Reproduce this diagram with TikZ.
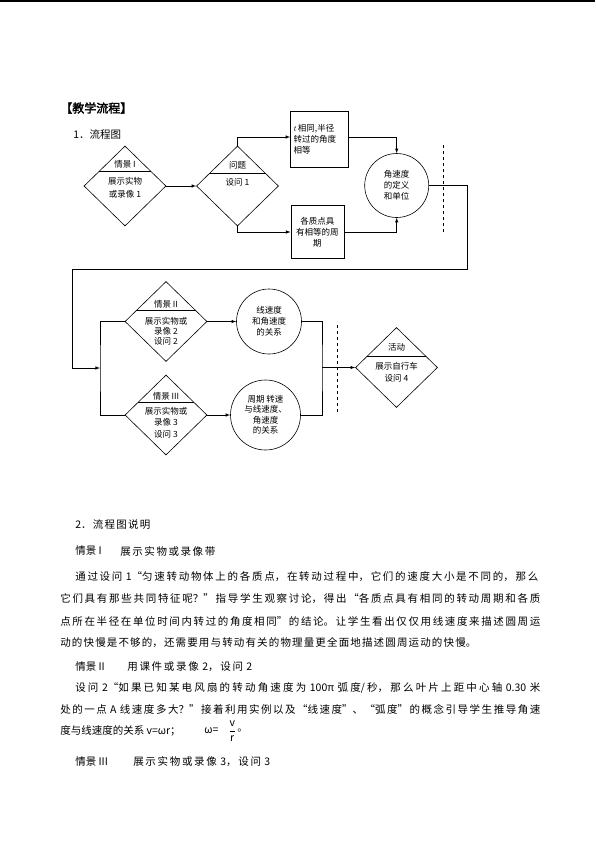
\documentclass[tikz,border=0pt]{standalone}
\usepackage{fontspec}
\setmainfont{Noto Sans CJK SC}
\newfontfamily\headfont{Noto Sans CJK SC}[FakeBold=2.5]
\usetikzlibrary{shapes.geometric,calc}
\XeTeXlinebreaklocale "zh"
\XeTeXlinebreakskip=0pt plus 4pt
\newcommand{\spreadline}[2]{\parbox{#1}{\parfillskip=0pt\relax\spaceskip=3pt plus 1pt\relax #2}}

\tikzset{
  scene/.style={draw, diamond, minimum width=82pt, minimum height=80pt, inner sep=0pt},
  notebox/.style={draw, rectangle, inner sep=2pt, font=\fontsize{8.5}{11}\selectfont},
  idea/.style={draw, circle, inner sep=1pt, align=center, font=\fontsize{8.5}{11}\selectfont},
  tag/.style={font=\fontsize{8.5}{10.5}\selectfont, align=center, inner sep=0pt},
  body/.style={anchor=west, inner sep=0pt, font=\fontsize{10.5}{13}\selectfont},
}

\begin{document}
\begin{tikzpicture}[x=1pt, y=-1pt, >=latex, line width=0.6pt]
  \useasboundingbox (0,0) rectangle (595,841);
  \draw[line width=1.5pt] (0,1) -- (595,1);

  \node[body, font=\headfont\fontsize{12}{14}\selectfont] (head) at (60,108) {【教学流程】};
  \node[body] (sec1) at (73,135) {1．流程图};

  % first row
  \node[scene] (s1) at (125,186) {};
  \node[tag] (s1a) at (125,164) {情景 I};
  \node[tag] (s1b) at (125,187.5) {展示实物\\[2pt]或录像 1};
  \node[scene] (q1) at (237.5,186) {};
  \node[tag] (q1a) at (237.5,165) {问题};
  \node[tag] (q1b) at (237.5,182) {设问 1};
  \node[notebox, minimum width=58pt, minimum height=56pt, text width=52pt, align=left] (b1) at (319.5,139.5) {$t$\,相同,半径\\转过的角度\\相等};
  \node[notebox, minimum width=53pt, minimum height=53pt, align=center] (b2) at (317.3,232) {各质点具\\有相等的周\\期};
  \node[idea, minimum size=64pt] (c1) at (396.7,185.5) {角速度\\的定义\\和单位};

  \draw[->] (s1) -- (q1);
  \draw[->] (q1.north) |- ([yshift=2.5pt]b1.west);
  \draw[->] (q1.south) |- (b2.west);
  \draw[->] ([yshift=2.5pt]b1.east) -| (c1.north);
  \draw[->] (b2.east) -| (c1.south);
  \draw[dashed] (443,145) -- (443,232);

  % back to second row
  \coordinate (turn) at (467,269);
  \coordinate (back) at (72,368);
  \coordinate (split) at (100,368);
  \draw[->] (c1.east) -| (turn) -| (back) -- (split);

  % second row
  \node[scene] (s2) at (166,321.5) {};
  \node[tag] (s2a) at (166,304) {情景 II};
  \node[tag, font=\fontsize{8.5}{10}\selectfont] (s2b) at (166,331) {展示实物或\\录像 2\\设问 2};
  \node[scene] (s3) at (166,415) {};
  \node[tag] (s3a) at (166,396) {情景 III};
  \node[tag, font=\fontsize{8.5}{11.7}\selectfont] (s3b) at (166,422.5) {展示实物或\\录像 3\\设问 3};
  \draw (s2.west) -| (split) |- (s3.west);

  \node[idea, minimum size=65pt] (cA) at (269,321.5) {线速度\\和角速度\\的关系};
  \node[idea, minimum size=70pt, font=\fontsize{8.5}{10.5}\selectfont] (cB) at (265.5,415) {周期\ 转速\\与线速度、\\角速度\\的关系};
  \draw[->] (s2) -- (cA);
  \draw[->] (s3) -- (cB);

  \coordinate (join) at (322,367.5);
  \draw (cA.east) -| (join) |- (cB.east);
  \node[scene] (act) at (396.5,367.5) {};
  \node[tag] (acta) at (396.5,347.7) {活动};
  \node[tag, font=\fontsize{8.5}{11.6}\selectfont] (actb) at (396.5,372.5) {展示自行车\\设问 4};
  \draw[->] (join) -- (act);
  \draw[dashed] (337,325) -- (337,413);

  % dividers in the diamonds
  \foreach \d/\f in {s1/0.64, q1/0.68, s2/0.72, s3/0.675, act/0.72}
    \draw ($(\d.north)!\f!(\d.west)$) -- ($(\d.north)!\f!(\d.east)$);

  % notes below the chart
  \node[body] (p0) at (75,525) {\spreadline{75pt}{2．流程图说明}};
  \node[body] (p1a) at (75,551) {情景 I};
  \node[body] (p1b) at (120,551) {\spreadline{95pt}{展示实物或录像带}};
  \node[body] (p2) at (75,577) {\spreadline{463pt}{通过设问 1“匀速转动物体上的各质点，在转动过程中，它们的速度大小是不同的，那么}};
  \node[body] (p3) at (60,599) {\spreadline{480pt}{它们具有那些共同特征呢？”指导学生观察讨论，得出“各质点具有相同的转动周期和各质}};
  \node[body] (p4) at (60,621) {\spreadline{480pt}{点所在半径在单位时间内转过的角度相同”的结论。让学生看出仅仅用线速度来描述圆周运}};
  \node[body] (p5) at (60,643) {\spreadline{416pt}{动的快慢是不够的，还需要用与转动有关的物理量更全面地描述圆周运动的快慢。}};
  \node[body] (p6a) at (75,667) {情景 II};
  \node[body] (p6b) at (127,667) {\spreadline{125pt}{用课件或录像 2，设问 2}};
  \node[body] (p7) at (75,688) {\spreadline{465pt}{设问 2“如果已知某电风扇的转动角速度为 100π 弧度/秒，那么叶片上距中心轴 0.30 米}};
  \node[body] (p8) at (60,709) {\spreadline{480pt}{处的一点 A 线速度多大？”接着利用实例以及“线速度”、“弧度”的概念引导学生推导角速}};
  \node[body] (p9a) at (60,731) {度与线速度的关系 v=ωr；};
  \node[body] (p9b) at (204,731) {ω=};
  \node[body] (p9c) at (228,731) {$\displaystyle\frac{\mathrm{v}}{\mathrm{r}}$};
  \node[body] (p9d) at (237,731) {。};
  \node[body] (p10a) at (75,762) {情景 III};
  \node[body] (p10b) at (133,762) {\spreadline{137pt}{展示实物或录像 3，设问 3}};
\end{tikzpicture}
\end{document}
